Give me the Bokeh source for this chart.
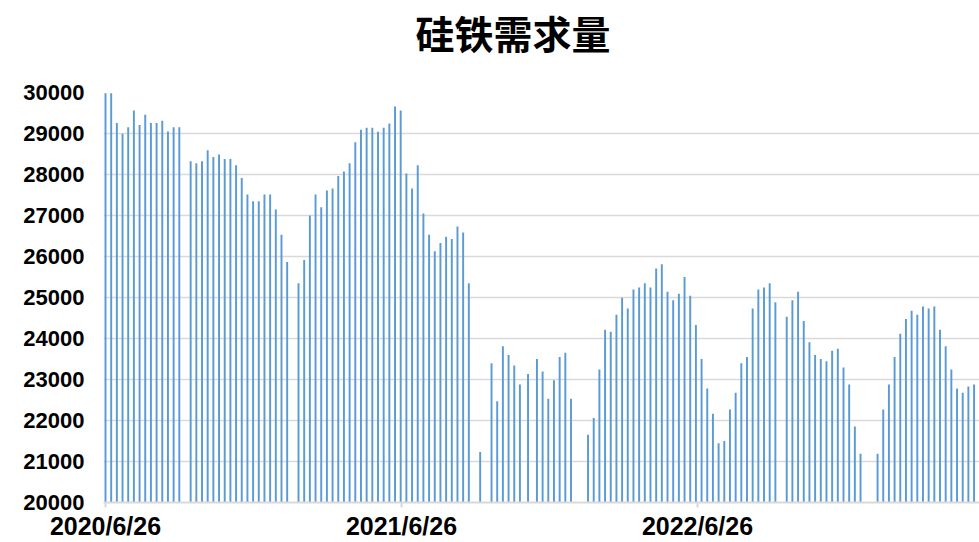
import pandas as pd
from bokeh.plotting import figure
from bokeh.models import FixedTicker, Range1d, Title
from bokeh.embed import file_html
from bokeh.resources import INLINE

# weekly dates (missing weeks are holidays with no data)
dates = [
    "2020-06-26", "2020-07-03", "2020-07-10", "2020-07-17", "2020-07-24", "2020-07-31",
    "2020-08-07", "2020-08-14", "2020-08-21", "2020-08-28", "2020-09-04", "2020-09-11",
    "2020-09-18", "2020-09-25", "2020-10-09", "2020-10-16", "2020-10-23", "2020-10-30",
    "2020-11-06", "2020-11-13", "2020-11-20", "2020-11-27", "2020-12-04", "2020-12-11",
    "2020-12-18", "2020-12-25", "2021-01-01", "2021-01-08", "2021-01-15", "2021-01-22",
    "2021-01-29", "2021-02-05", "2021-02-19", "2021-02-26", "2021-03-05", "2021-03-12",
    "2021-03-19", "2021-03-26", "2021-04-02", "2021-04-09", "2021-04-16", "2021-04-23",
    "2021-04-30", "2021-05-07", "2021-05-14", "2021-05-21", "2021-05-28", "2021-06-04",
    "2021-06-11", "2021-06-18", "2021-06-25", "2021-07-02", "2021-07-09", "2021-07-16",
    "2021-07-23", "2021-07-30", "2021-08-06", "2021-08-13", "2021-08-20", "2021-08-27",
    "2021-09-03", "2021-09-10", "2021-09-17", "2021-10-01", "2021-10-15", "2021-10-22",
    "2021-10-29", "2021-11-05", "2021-11-12", "2021-11-19", "2021-11-29", "2021-12-10",
    "2021-12-17", "2021-12-24", "2021-12-31", "2022-01-07", "2022-01-14", "2022-01-21",
    "2022-02-11", "2022-02-18", "2022-02-25", "2022-03-04", "2022-03-11", "2022-03-18",
    "2022-03-25", "2022-04-01", "2022-04-08", "2022-04-15", "2022-04-22", "2022-04-29",
    "2022-05-06", "2022-05-13", "2022-05-20", "2022-05-27", "2022-06-03", "2022-06-10",
    "2022-06-17", "2022-06-24", "2022-07-01", "2022-07-08", "2022-07-15", "2022-07-22",
    "2022-07-29", "2022-08-05", "2022-08-12", "2022-08-19", "2022-08-26", "2022-09-02",
    "2022-09-09", "2022-09-16", "2022-09-23", "2022-09-30", "2022-10-14", "2022-10-21",
    "2022-10-28", "2022-11-04", "2022-11-11", "2022-11-18", "2022-11-25", "2022-12-02",
    "2022-12-09", "2022-12-16", "2022-12-23", "2022-12-30", "2023-01-06", "2023-01-13",
    "2023-02-03", "2023-02-10", "2023-02-17", "2023-02-24", "2023-03-03", "2023-03-10",
    "2023-03-17", "2023-03-24", "2023-03-31", "2023-04-07", "2023-04-14", "2023-04-21",
    "2023-04-28", "2023-05-05", "2023-05-12", "2023-05-19", "2023-05-26", "2023-06-02",
]

demand = [
    29980, 29980, 29255, 28995, 29150, 29560,
    29205, 29457, 29255, 29255, 29310, 29050,
    29150, 29150, 28322, 28274, 28322, 28590,
    28428, 28485, 28380, 28380, 28225, 27917,
    27512, 27350, 27350, 27512, 27512, 27147,
    26532, 25867, 25350, 25916, 27002, 27512,
    27204, 27609, 27658, 27966, 28071, 28274,
    28784, 29092, 29141, 29141, 29044, 29141,
    29246, 29660, 29562, 28023, 27658, 28225,
    27050, 26532, 26126, 26329, 26483, 26426,
    26734, 26588, 25350, 21232, 23395, 22472,
    23809, 23598, 23339, 22877, 23136, 23501,
    23193, 22528, 22982, 23549, 23655, 22528,
    21653, 22058, 23241, 24214, 24165, 24579,
    24992, 24733, 25195, 25243, 25350, 25243,
    25705, 25810, 25138, 24935, 25089, 25502,
    25040, 24327, 23501, 22780, 22164, 21443,
    21500, 22270, 22674, 23395, 23549, 24733,
    25195, 25243, 25350, 24887, 24530, 24935,
    25138, 24425, 23906, 23598, 23501, 23444,
    23703, 23752, 23290, 22877, 21856, 21191,
    21191, 22270, 22877, 23549, 24117, 24473,
    24676, 24579, 24782, 24733, 24782, 24214,
    23809, 23241, 22780, 22674, 22828, 22877,
]

title_text = "硅铁需求量"
tick_dates = ["2020-06-26", "2021-06-26", "2022-06-26", "2023-06-26"]
tick_labels = ["2020/6/26", "2021/6/26", "2022/6/26", "2023/6/26"]
y_ticks = [20000, 21000, 22000, 23000, 24000, 25000, 26000, 27000, 28000, 29000, 30000]

DAY = 86400000.0
x = pd.to_datetime(dates)
t0 = pd.Timestamp(tick_dates[0]).value / 1e6
tick_ms = [pd.Timestamp(d).value / 1e6 for d in tick_dates]

p = figure(width=979, height=542, x_axis_type="datetime",
           output_backend="svg", toolbar_location=None,
           x_range=Range1d(t0 - 2.47 * DAY, t0 + 1077.7 * DAY),
           y_range=Range1d(20000, 30000),
           min_border_left=103, min_border_right=0,
           min_border_top=92, min_border_bottom=40)

p.vbar(x=x, top=demand, bottom=20000, width=2.4 * DAY,
       fill_color="#5B9BD5", line_color=None)

# spacer panel between the frame and the title, then the title itself
spacer = Title(text=" ", text_font_size="1px", standoff=27)
p.add_layout(spacer, "above")
main_title = Title(text=title_text, align="left", offset=312,
                   vertical_align="top", standoff=2,
                   text_font="Noto Sans CJK SC", text_font_style="bold",
                   text_font_size="39px", text_color="black")
p.add_layout(main_title, "above")

p.outline_line_color = None
p.xgrid.visible = False
p.ygrid.grid_line_color = "#D9D9D9"
p.ygrid.grid_line_width = 1.5

yax = p.yaxis[0]
yax.ticker = FixedTicker(ticks=y_ticks)
yax.axis_line_color = None
yax.major_tick_line_color = None
yax.major_tick_out = 0
yax.major_tick_in = 0
yax.minor_tick_line_color = None
yax.major_label_standoff = 19
yax.major_label_text_font = "Liberation Sans"
yax.major_label_text_font_style = "bold"
yax.major_label_text_font_size = "22px"
yax.major_label_text_color = "black"

xax = p.xaxis[0]
xax.ticker = FixedTicker(ticks=tick_ms)
xax.major_label_overrides = {t: l for t, l in zip(tick_ms, tick_labels)}
xax.axis_line_color = "#D9D9D9"
xax.axis_line_width = 2
xax.major_tick_line_color = "#D9D9D9"
xax.major_tick_line_width = 2
xax.major_tick_in = 0
xax.major_tick_out = 5
xax.minor_tick_line_color = None
xax.major_label_standoff = 4
xax.major_label_text_font = "Liberation Sans"
xax.major_label_text_font_style = "bold"
xax.major_label_text_font_size = "25px"
xax.major_label_text_color = "black"

open("out.html", "w").write(file_html(p, INLINE))
